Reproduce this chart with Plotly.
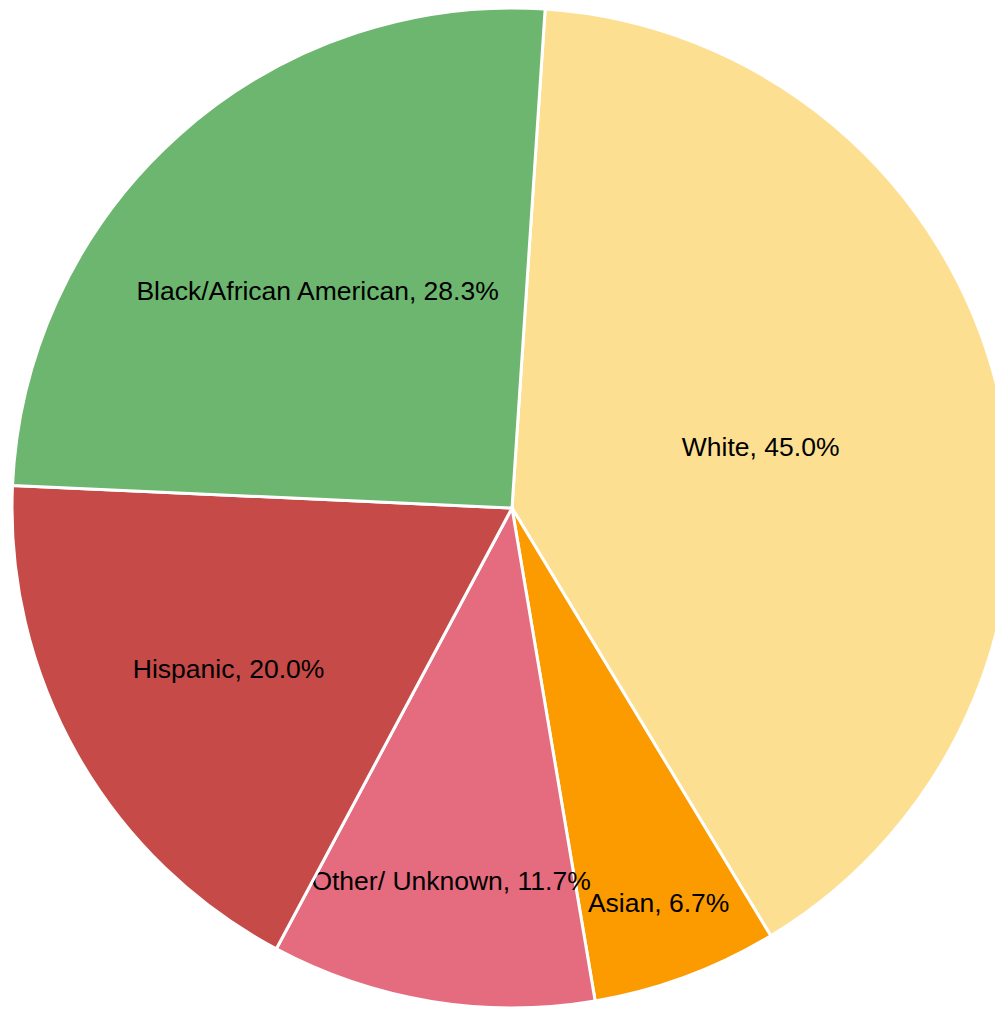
import plotly.graph_objects as go

categories = ["White", "Asian", "Other/ Unknown", "Hispanic", "Black/African American"]
values = [45.0, 6.7, 11.7, 20.0, 28.3]
colors = ["#FDDF92", "#FB9B00", "#E56B7E", "#C64A48", "#6DB66F"]

texts = [f"{c}, {v:.1f}%" for c, v in zip(categories, values)]

fig = go.Figure(go.Pie(
    labels=categories,
    values=values,
    text=texts,
    textinfo="text",
    textposition="inside",
    insidetextorientation="horizontal",
    sort=False,
    direction="clockwise",
    rotation=3.8,
    marker=dict(colors=colors, line=dict(color="white", width=3)),
    textfont=dict(family="Liberation Sans, Arial, sans-serif", size=26.5, color="black"),
    hoverinfo="label+value",
))

fig.update_layout(
    width=1008,
    height=1000,
    margin=dict(l=0, r=0, t=0, b=0),
    showlegend=False,
    paper_bgcolor="white",
    uniformtext=dict(minsize=26.5, mode="show"),
)

fig.write_html("out.html")
